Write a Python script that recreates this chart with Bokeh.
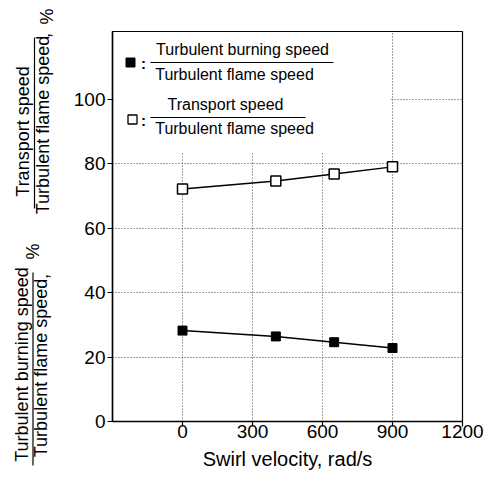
import math

from bokeh.core.properties import value
from bokeh.embed import file_html
from bokeh.layouts import row
from bokeh.models import FixedTicker, Range1d
from bokeh.plotting import figure
from bokeh.resources import INLINE

# Measured ratios versus swirl velocity
swirl = [0, 400, 650, 900]                      # rad/s
burning_ratio = [28.2, 26.4, 24.6, 22.8]        # turbulent burning / turbulent flame speed, %
transport_ratio = [72.1, 74.6, 76.8, 79.0]      # transport / turbulent flame speed, %

x_ticks = [0, 300, 600, 900, 1200]
y_ticks = [0, 20, 40, 60, 80, 100]
x_grid = [0, 300, 600, 900]
y_grid = [20, 40, 60, 80, 100]

FONT = "Liberation Sans"
W, H = 492, 478
LEFT_W = 60                          # strip carrying the y titles
FL, FR, FT, FB = 112, 462, 31, 421   # frame edges on the page
X0, X1 = -300, 1200
Y0, Y1 = 0, 121


def dx(px):
    """page x -> data x of the main plot"""
    return X0 + (px - FL) * (X1 - X0) / (FR - FL)


def dy(py):
    """page y -> data y of the main plot"""
    return Y0 + (FB - py) * (Y1 - Y0) / (FB - FT)


def no_frame_align(fig):
    try:
        fig.frame_align = False
    except Exception:
        pass


# ---------------------------------------------------------------- main plot
p = figure(
    width=W - LEFT_W, height=H,
    x_range=Range1d(X0, X1), y_range=Range1d(Y0, Y1),
    output_backend="svg", toolbar_location=None,
    min_border_left=FL - LEFT_W, min_border_right=W - FR,
    min_border_top=FT, min_border_bottom=H - FB,
    background_fill_color="white", border_fill_color="white",
)
no_frame_align(p)
p.outline_line_color = "black"
p.outline_line_width = 1.2

p.xaxis.ticker = FixedTicker(ticks=x_ticks)
p.yaxis.ticker = FixedTicker(ticks=y_ticks)
for ax in (p.xaxis[0], p.yaxis[0]):
    ax.axis_line_width = 1.5
    ax.axis_line_color = "black"
    ax.major_tick_line_color = "black"
    ax.major_tick_line_width = 1.2
    ax.major_tick_out = 5
    ax.major_tick_in = 0
    ax.minor_tick_line_color = None
    ax.major_label_text_font = FONT
    ax.major_label_text_font_size = "19px"
    ax.major_label_text_color = "black"
p.xaxis.major_label_standoff = -2
p.yaxis.major_label_standoff = 2
p.xaxis.axis_label = "Swirl velocity, rad/s"
p.xaxis.axis_label_text_font = FONT
p.xaxis.axis_label_text_font_size = "20px"
p.xaxis.axis_label_text_font_style = "normal"
p.xaxis.axis_label_text_color = "black"
p.xaxis.axis_label_standoff = 7

p.xgrid.ticker = FixedTicker(ticks=x_grid)
p.ygrid.ticker = FixedTicker(ticks=y_grid)
p.grid.grid_line_color = "#444444"
p.grid.grid_line_dash = "1 2"
p.grid.grid_line_width = 1

# blank panel behind the key
p.quad(left=dx(113.5), right=dx(390), bottom=dy(152), top=dy(32.5),
       fill_color="white", line_color=None)

# data series
p.line(swirl, transport_ratio, line_color="black", line_width=1.5)
p.scatter(swirl, transport_ratio, marker="square", size=10,
          fill_color="white", line_color="black", line_width=1.5)
p.line(swirl, burning_ratio, line_color="black", line_width=1.5)
p.scatter(swirl, burning_ratio, marker="square", size=9,
          fill_color="black", line_color="black")

# key: symbol, colon and a fraction for each series
p.scatter([dx(130)], [dy(62)], marker="square", size=9,
          fill_color="black", line_color="black")
p.scatter([dx(132)], [dy(119)], marker="square", size=9,
          fill_color="white", line_color="black", line_width=1.3)
p.text(x=[dx(143), dx(143)], y=[dy(63), dy(120)], text=[":", ":"],
       text_font=value(FONT), text_font_size="15px", text_font_style="bold",
       text_align="center", text_baseline="middle", text_color="black")
p.segment(x0=[dx(150), dx(150)], x1=[dx(333), dx(305)],
          y0=[dy(62), dy(117)], y1=[dy(62), dy(117)],
          line_color="black", line_width=1.2)
p.text(x=[dx(242), dx(234), dx(225), dx(234)],
       y=[dy(49), dy(74), dy(104), dy(128)],
       text=["Turbulent burning speed", "Turbulent flame speed",
             "Transport speed", "Turbulent flame speed"],
       text_font=value(FONT), text_font_size="16px",
       text_align="center", text_baseline="middle", text_color="black")

# ------------------------------------- strip with the y titles (page pixels)
lp = figure(
    width=LEFT_W, height=H,
    x_range=Range1d(0, LEFT_W), y_range=Range1d(H, 0),
    output_backend="svg", toolbar_location=None,
    x_axis_location=None, y_axis_location=None,
    min_border=0, outline_line_color=None,
    background_fill_color="white", border_fill_color="white",
)
no_frame_align(lp)
lp.grid.visible = False

title_style = dict(angle=math.pi / 2, text_font=value(FONT),
                   text_font_size="18px", text_color="black",
                   text_align="center", text_baseline="middle")

# fraction texts (numerators left of the bar, denominators right of it)
lp.text(x=[22.5, 42.5, 21.5, 40.5],
        y=[131, 124.5, 364, 367.5],
        text=["Transport speed", "Turbulent flame speed",
              "Turbulent burning speed", "Turbulent flame speed"],
        **title_style)
lp.text(x=[42.5, 40.5], y=[35, 276], text=[",", ","], **title_style)
lp.text(x=[46, 32], y=[16, 251], text=["%", "%"], **title_style)
# fraction bars
lp.segment(x0=[34, 32.5], x1=[34, 32.5], y0=[37, 272], y1=[208, 465],
           line_color="black", line_width=1.2)

layout = row(lp, p)

open("out.html", "w").write(file_html(layout, INLINE))
